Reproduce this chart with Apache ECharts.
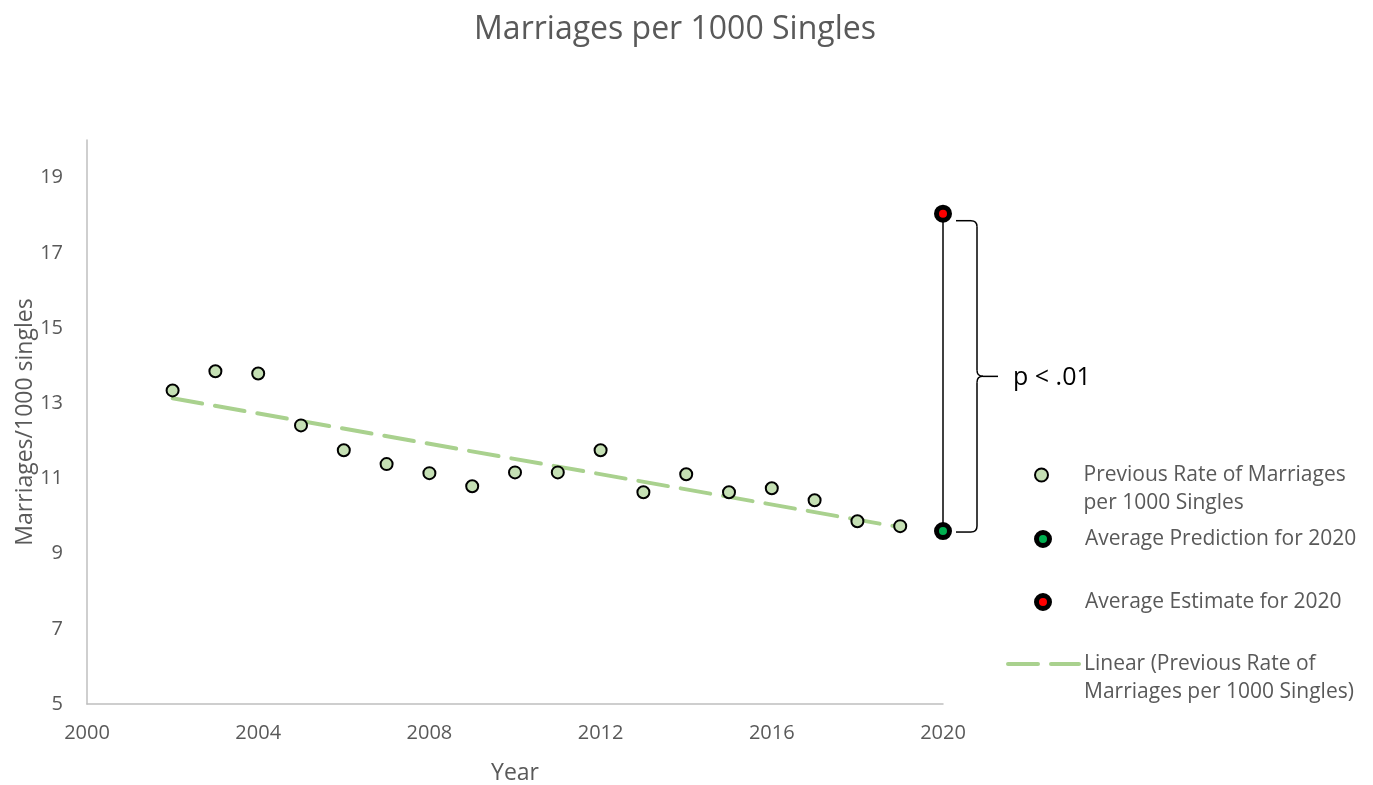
<!DOCTYPE html>
<html>
<head>
<meta charset="utf-8">
<script src="https://cdn.jsdelivr.net/npm/echarts@6/dist/echarts.min.js"></script>
<style>
html,body{margin:0;padding:0;background:#fff;}
#c{width:1373px;height:785px;}
</style>
</head>
<body>
<div id="c"></div>
<script>
// ---- data ----
const years = [2002,2003,2004,2005,2006,2007,2008,2009,2010,2011,2012,2013,2014,2015,2016,2017,2018,2019];
const rates = [13.34,13.85,13.79,12.41,11.75,11.38,11.14,10.79,11.16,11.16,11.75,10.63,11.11,10.63,10.74,10.42,9.86,9.73];
const predictionYear = [2020];
const predictionValue = [9.6];
const estimateYear = [2020];
const estimateValue = [18.04];
const trendYears = [2002, 2019];
const trendValues = [13.13, 9.70];
const xTicks = [2000, 2004, 2008, 2012, 2016, 2020];
const yTicks = [5, 7, 9, 11, 13, 15, 17, 19];
const sigLabel = 'p < .01';

const NAME_PREV = 'Previous Rate of Marriages per 1000 Singles';
const NAME_PRED = 'Average Prediction for 2020';
const NAME_EST = 'Average Estimate for 2020';
const NAME_LIN = 'Linear (Previous Rate of Marriages per 1000 Singles)';
const legendText = {};
legendText[NAME_PREV] = '\nPrevious Rate of Marriages\nper 1000 Singles';
legendText[NAME_PRED] = 'Average Prediction for 2020';
legendText[NAME_EST] = 'Average Estimate for 2020';
legendText[NAME_LIN] = '\nLinear (Previous Rate of\nMarriages per 1000 Singles)';

const FONT = 'Open Sans';
const GRAY = '#595959';
const TREND = '#a9d18e';
const DASH = [30, 13];

const scatterData = years.map((y, i) => [y, rates[i]]);
const predData = predictionYear.map((y, i) => [y, predictionValue[i]]);
const estData = estimateYear.map((y, i) => [y, estimateValue[i]]);
const trendData = trendYears.map((y, i) => [y, trendValues[i]]);
const connectorData = [predData[0], estData[0]];

function legendBlock(name, top, left, w, h, extra) {
  const base = {
    data: [name],
    orient: 'vertical',
    left: left,
    top: top,
    padding: 0,
    itemWidth: w,
    itemHeight: h,
    selectedMode: false,
    formatter: n => legendText[n],
    textStyle: { fontFamily: FONT, fontSize: 21, color: GRAY, lineHeight: 28 }
  };
  return Object.assign(base, extra || {});
}

const chart = echarts.init(document.getElementById('c'));
const option = {
  animation: false,
  backgroundColor: '#ffffff',
  title: {
    text: 'Marriages per 1000 Singles',
    left: 670,
    top: 9,
    textAlign: 'center',
    textStyle: { fontFamily: FONT, fontSize: 32, fontWeight: 'normal', color: GRAY }
  },
  grid: { left: 87, top: 140, width: 856, height: 564, containLabel: false, outerBoundsMode: 'none' },
  xAxis: {
    type: 'value',
    min: xTicks[0],
    max: xTicks[xTicks.length - 1],
    interval: xTicks[1] - xTicks[0],
    name: 'Year',
    nameLocation: 'middle',
    nameGap: 58,
    nameMoveOverlap: false,
    nameTextStyle: { fontFamily: FONT, fontSize: 23, color: GRAY },
    axisLine: { onZero: false, lineStyle: { color: '#bfbfbf', width: 1.5 } },
    axisTick: { show: false },
    splitLine: { show: false },
    axisLabel: { fontFamily: FONT, fontSize: 20, color: GRAY, margin: 19, formatter: v => String(v) }
  },
  yAxis: {
    type: 'value',
    min: yTicks[0],
    max: 20,
    interval: yTicks[1] - yTicks[0],
    name: 'Marriages/1000 singles',
    nameLocation: 'middle',
    nameGap: 50,
    nameMoveOverlap: false,
    nameTextStyle: { fontFamily: FONT, fontSize: 23, color: GRAY },
    axisLine: { show: true, onZero: false, lineStyle: { color: '#bfbfbf', width: 1.5 } },
    axisTick: { show: false },
    splitLine: { show: false },
    axisLabel: { fontFamily: FONT, fontSize: 20, color: GRAY, margin: 24, showMaxLabel: false,
      formatter: v => (yTicks.indexOf(v) >= 0 ? String(v) : '') }
  },
  legend: [
    legendBlock(NAME_PREV, 433, 1034, 74, 13, { itemStyle: { borderWidth: 2 } }),
    legendBlock(NAME_PRED, 525, 1034, 74, 13, { itemStyle: { borderWidth: 5 } }),
    legendBlock(NAME_EST, 588, 1034, 74, 13, { itemStyle: { borderWidth: 5 } }),
    legendBlock(NAME_LIN, 622, 1006, 71, 14, {
      itemStyle: { opacity: 0 },
      lineStyle: { color: TREND, width: 4, type: DASH, cap: 'round', opacity: 1 }
    })
  ],
  series: [
    {
      name: 'connector',
      type: 'line',
      data: connectorData,
      symbol: 'none',
      silent: true,
      z: 1,
      lineStyle: { color: '#000000', width: 1.5 }
    },
    {
      name: NAME_LIN,
      type: 'line',
      data: trendData,
      symbol: 'none',
      z: 2,
      itemStyle: { color: TREND },
      lineStyle: { color: TREND, width: 4, type: DASH, cap: 'round' }
    },
    {
      name: NAME_PREV,
      type: 'scatter',
      data: scatterData,
      symbol: 'circle',
      symbolSize: 12,
      z: 3,
      itemStyle: { color: '#c5e0b4', borderColor: '#000000', borderWidth: 2, opacity: 1 }
    },
    {
      name: NAME_PRED,
      type: 'scatter',
      data: predData,
      symbol: 'circle',
      symbolSize: 13,
      z: 4,
      itemStyle: { color: '#00b050', borderColor: '#000000', borderWidth: 5, opacity: 1 }
    },
    {
      name: NAME_EST,
      type: 'scatter',
      data: estData,
      symbol: 'circle',
      symbolSize: 13,
      z: 4,
      itemStyle: { color: '#ff0000', borderColor: '#000000', borderWidth: 5, opacity: 1 }
    }
  ]
};
chart.setOption(option);

// ---- significance brace, positioned from the data through the axes ----
const pTop = chart.convertToPixel({ xAxisIndex: 0, yAxisIndex: 0 }, estData[0]);
const pBot = chart.convertToPixel({ xAxisIndex: 0, yAxisIndex: 0 }, predData[0]);
const x0 = pTop[0] + 13, x1 = pTop[0] + 34, xt = pTop[0] + 55;
const yT = pTop[1] + 7, yB = pBot[1] + 1, yM = (yT + yB) / 2;
const r = 6;
const st = { stroke: '#000', lineWidth: 1.5, fill: null };
const seg = pts => ({ type: 'polyline', shape: { points: pts }, style: st, silent: true });
const curve = (ax, ay, cx, cy, bx, by) => ({
  type: 'bezierCurve',
  shape: { x1: ax, y1: ay, cpx1: cx, cpy1: cy, x2: bx, y2: by },
  style: st, silent: true
});
chart.setOption({
  graphic: [
    seg([[x0, yT], [x1 - r, yT]]),
    curve(x1 - r, yT, x1, yT, x1, yT + r),
    seg([[x1, yT + r], [x1, yM - r]]),
    curve(x1, yM - r, x1, yM, x1 + r, yM),
    seg([[x1 + r, yM], [xt, yM]]),
    curve(x1 + r, yM, x1, yM, x1, yM + r),
    seg([[x1, yM + r], [x1, yB - r]]),
    curve(x1, yB - r, x1, yB, x1 - r, yB),
    seg([[x1 - r, yB], [x0, yB]]),
    { type: 'text', x: pTop[0] + 70, y: yM + 2, silent: true,
      style: { text: sigLabel, fontFamily: FONT, fontSize: 25, fill: '#000', verticalAlign: 'middle', align: 'left' } }
  ]
});
</script>
</body>
</html>
